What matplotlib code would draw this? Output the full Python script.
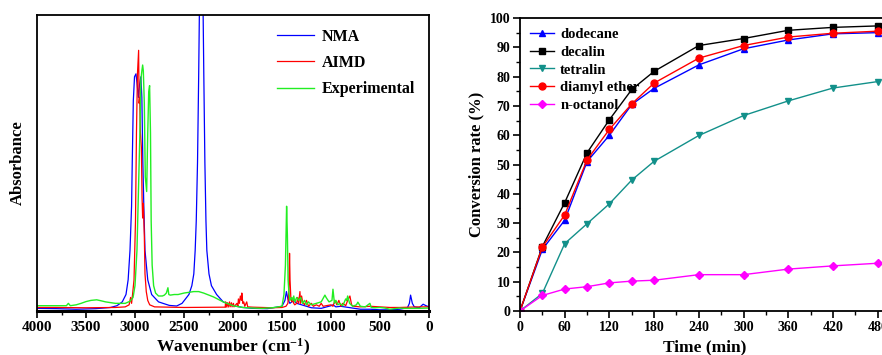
import numpy as np
import matplotlib.pyplot as plt
from matplotlib.ticker import MultipleLocator

# ---- IR spectra (wavenumber cm-1, absorbance a.u.) ----
nma_wn = [4000, 3800, 3600, 3400, 3250, 3184, 3130, 3092, 3070, 3051, 3035, 3028, 3017, 3005,
          2990, 2980, 2965, 2955, 2940, 2930, 2920, 2910, 2898, 2870, 2830, 2760, 2650, 2575,
          2520, 2450, 2420, 2400, 2386, 2375, 2362, 2350, 2340, 2324, 2308, 2298, 2287, 2276,
          2267, 2245, 2220, 2167, 2100, 2000, 1900, 1800, 1650, 1500, 1470, 1455, 1440, 1420,
          1400, 1380, 1350, 1300, 1200, 1100, 1000, 980, 950, 900, 800, 700, 600, 500, 400,
          300, 220, 200, 188, 170, 150, 100, 60, 30, 0]
nma_ab = [0.003, 0.002, 0.0, 0.002, 0.006, 0.012, 0.025, 0.05, 0.1, 0.2, 0.35, 0.5, 0.71, 0.79,
          0.80, 0.77, 0.72, 0.76, 0.79, 0.72, 0.5, 0.35, 0.2, 0.1, 0.05, 0.025, 0.013, 0.011,
          0.02, 0.05, 0.08, 0.12, 0.2, 0.3, 0.5, 0.8, 1.1, 1.6, 1.1, 0.8, 0.5, 0.3,
          0.2, 0.12, 0.08, 0.05, 0.025, 0.012, 0.006, 0.003, 0.002, 0.01, 0.03, 0.06, 0.035, 0.02,
          0.025, 0.03, 0.02, 0.015, 0.005, 0.003, 0.012, 0.015, 0.008, 0.01, 0.005, 0.0, 0.0, -0.002, -0.002,
          0.0, 0.005, 0.02, 0.048, 0.02, 0.008, 0.005, 0.017, 0.012, 0.008]

aimd_wn = [4000, 3800, 3500, 3200, 3100, 3060, 3045, 3035, 3025, 3010, 2995, 2985, 2975, 2963,
           2958, 2952, 2945, 2935, 2928, 2922, 2915, 2905, 2898, 2885, 2870, 2850, 2800, 2500,
           2100, 2080, 2075, 2070, 2055, 2050, 2035, 2030, 2015, 2010, 1995, 1990, 1960, 1950,
           1945, 1935, 1925, 1915, 1910, 1900, 1890, 1880, 1860, 1850, 1800, 1700, 1600, 1500,
           1460, 1440, 1430, 1423, 1418, 1410, 1400, 1390, 1380, 1370, 1350, 1340, 1330, 1317,
           1310, 1300, 1290, 1270, 1250, 1230, 1200, 1180, 1150, 1120, 1100, 1080, 1050, 1000,
           980, 960, 940, 920, 900, 880, 850, 830, 807, 790, 770, 700, 600, 500, 400, 300, 200,
           100, 0]
aimd_ab = [0.006, 0.006, 0.005, 0.006, 0.008, 0.015, 0.04, 0.02, 0.05, 0.1, 0.3, 0.6, 0.8, 0.88,
           0.7, 0.72, 0.6, 0.55, 0.38, 0.31, 0.36, 0.25, 0.12, 0.06, 0.03, 0.015, 0.008, 0.006,
           0.007, 0.007, 0.025, 0.007, 0.022, 0.007, 0.025, 0.008, 0.022, 0.008, 0.02, 0.008, 0.02, 0.01,
           0.035, 0.02, 0.045, 0.03, 0.055, 0.02, 0.025, 0.01, 0.025, 0.008, 0.007, 0.006, 0.005, 0.006,
           0.01, 0.02, 0.06, 0.19, 0.1, 0.04, 0.025, 0.03, 0.02, 0.015, 0.02, 0.04, 0.02, 0.06,
           0.02, 0.045, 0.025, 0.015, 0.03, 0.01, 0.02, 0.01, 0.015, 0.01, 0.02, 0.01, 0.012, 0.015,
           0.01, 0.03, 0.015, 0.03, 0.01, 0.02, 0.012, 0.03, 0.045, 0.015, 0.01, 0.008, 0.01, 0.008, 0.006, 0.006, 0.007,
           0.008, 0.008]

exp_wn = [4000, 3900, 3700, 3680, 3660, 3600, 3550, 3500, 3450, 3391, 3350, 3300, 3200, 3100,
          3051, 3020, 3000, 2980, 2965, 2950, 2940, 2930, 2922, 2915, 2905, 2895, 2881, 2870,
          2860, 2851, 2842, 2835, 2825, 2810, 2790, 2760, 2720, 2700, 2680, 2664, 2655, 2640,
          2600, 2560, 2500, 2400, 2350, 2300, 2200, 2100, 2000, 1900, 1800, 1700, 1600, 1500,
          1480, 1465, 1453, 1445, 1438, 1430, 1420, 1400, 1390, 1380, 1370, 1350, 1330, 1310,
          1290, 1270, 1250, 1230, 1200, 1150, 1100, 1062, 1050, 1020, 990, 980, 965, 950,
          930, 910, 880, 850, 840, 830, 810, 780, 740, 726, 700, 650, 603, 590, 550, 500,
          450, 400, 350, 300, 250, 200, 100, 0]
exp_ab = [0.012, 0.012, 0.012, 0.02, 0.012, 0.015, 0.02, 0.026, 0.03, 0.032, 0.029, 0.025, 0.02, 0.02,
          0.027, 0.04, 0.08, 0.2, 0.4, 0.6, 0.78, 0.81, 0.83, 0.81, 0.7, 0.45, 0.4, 0.6,
          0.74, 0.76, 0.6, 0.3, 0.15, 0.08, 0.055, 0.045, 0.045, 0.048, 0.055, 0.073, 0.05, 0.048,
          0.05, 0.05, 0.055, 0.06, 0.06, 0.055, 0.042, 0.025, 0.012, 0.006, 0.004, 0.003, 0.005, 0.01,
          0.05, 0.15, 0.35, 0.25, 0.1, 0.06, 0.03, 0.04, 0.03, 0.045, 0.025, 0.04, 0.03, 0.04,
          0.02, 0.03, 0.015, 0.025, 0.015, 0.02, 0.025, 0.048, 0.04, 0.025, 0.03, 0.068, 0.02, 0.03,
          0.015, 0.02, 0.012, 0.035, 0.03, 0.045, 0.02, 0.01, 0.015, 0.024, 0.01, 0.008, 0.02, 0.006, 0.005, 0.006,
          0.004, 0.0, 0.002, 0.004, 0.003, 0.003, 0.003, 0.004]

# ---- conversion data, right panel ----
time_min = [0, 30, 60, 90, 120, 150, 180, 240, 300, 360, 420, 480]
dodecane = [0, 21.0, 31.0, 51.0, 60.0, 70.5, 76.0, 84.0, 89.5, 92.5, 94.6, 95.0]
decalin = [0, 22.0, 37.0, 54.0, 65.3, 75.6, 81.8, 90.6, 93.0, 95.8, 96.8, 97.3]
tetralin = [0, 6.0, 23.0, 29.8, 36.6, 44.7, 51.1, 59.9, 66.7, 71.7, 76.1, 78.3]
diamyl_ether = [0, 21.8, 32.8, 51.6, 62.0, 70.7, 77.8, 86.3, 90.6, 93.5, 94.8, 95.5]
n_octanol = [0, 5.3, 7.5, 8.3, 9.6, 10.2, 10.5, 12.4, 12.4, 14.3, 15.4, 16.3]

plt.rcParams['font.family'] = ['Liberation Serif', 'DejaVu Serif']
plt.rcParams['font.weight'] = 'bold'
plt.rcParams['axes.labelweight'] = 'bold'
plt.rcParams['mathtext.fontset'] = 'custom'
plt.rcParams['mathtext.rm'] = 'Liberation Serif:bold'
plt.rcParams['mathtext.bf'] = 'Liberation Serif:bold'
plt.rcParams['mathtext.default'] = 'bf'

W, H = 882, 355
fig = plt.figure(figsize=(W / 100, H / 100), dpi=100)

# left panel: spectra
ax1 = fig.add_axes([37 / W, 1 - 311 / H, (429 - 37) / W, (311 - 15) / H])
ax1.plot(nma_wn, nma_ab, color='#0000ff', lw=0.9, label='NMA')
ax1.plot(aimd_wn, aimd_ab, color='#ff0000', lw=0.9, label='AIMD')
ax1.plot(exp_wn, exp_ab, color='#22ee22', lw=1.0, label='Experimental')
ax1.set_xlim(4000, 0)
ax1.set_ylim(-0.006, 1.0)
ax1.set_yticks([])
ax1.xaxis.set_major_locator(MultipleLocator(500))
ax1.xaxis.set_minor_locator(MultipleLocator(250))
ax1.tick_params(axis='x', which='major', direction='out', length=5, width=1.2, labelsize=11, pad=2)
ax1.tick_params(axis='x', which='minor', direction='out', length=3, width=1.0)
for lab in ax1.get_xticklabels():
    lab.set_fontweight('bold')
for s in ax1.spines.values():
    s.set_linewidth(1.3)
ax1.spines['bottom'].set_linewidth(2.2)
ax1.set_xlabel('Wavenumber (cm$^{-1}$)', fontsize=12.5, labelpad=2)
ax1.set_ylabel('Absorbance', fontsize=12, labelpad=8)
ax1.legend(loc='upper right', frameon=False, fontsize=11.5, handlelength=2.3,
           labelspacing=0.65, borderaxespad=0.45, handletextpad=0.5,
           bbox_to_anchor=(1.0, 1.0))

# right panel: conversion vs time
x_right = 890  # axes run past the image edge, like the source crop
ax2 = fig.add_axes([520 / W, 1 - 311 / H, (x_right - 520) / W, (311 - 18) / H])
ms = 5
ax2.plot(time_min, dodecane, color='#0000ff', marker='^', ms=ms, lw=1.0, label='dodecane')
ax2.plot(time_min, decalin, color='#000000', marker='s', ms=ms, lw=1.0, label='decalin')
ax2.plot(time_min, tetralin, color='#12908a', marker='v', ms=ms, lw=1.0, label='tetralin')
ax2.plot(time_min, diamyl_ether, color='#ff0000', marker='o', ms=ms, lw=1.0, label='diamyl ether')
ax2.plot(time_min, n_octanol, color='#ff00ff', marker='D', ms=4.5, lw=1.0, label='n-octanol')
ax2.set_xlim(0, 480 * (x_right - 520) / (877.7 - 520))
ax2.set_ylim(0, 100)
ax2.set_xticks(np.arange(0, 481, 60))
ax2.xaxis.set_minor_locator(MultipleLocator(30))
ax2.yaxis.set_major_locator(MultipleLocator(10))
ax2.yaxis.set_minor_locator(MultipleLocator(5))
ax2.tick_params(which='major', direction='out', length=5, width=1.2, labelsize=10, pad=2)
ax2.tick_params(which='minor', direction='out', length=3, width=1.0)
for lab in ax2.get_xticklabels() + ax2.get_yticklabels():
    lab.set_fontweight('bold')
for s in ax2.spines.values():
    s.set_linewidth(1.3)
ax2.set_xlabel('Time (min)', fontsize=12.5, labelpad=4)
ax2.set_ylabel('Conversion rate (%)', fontsize=12, labelpad=4)
ax2.legend(loc='upper left', frameon=False, fontsize=10.5, handlelength=1.7,
           labelspacing=0.3, borderaxespad=0.0, handletextpad=0.4,
           bbox_to_anchor=(0.01, 0.985))

fig.savefig('out.png', dpi=100)
